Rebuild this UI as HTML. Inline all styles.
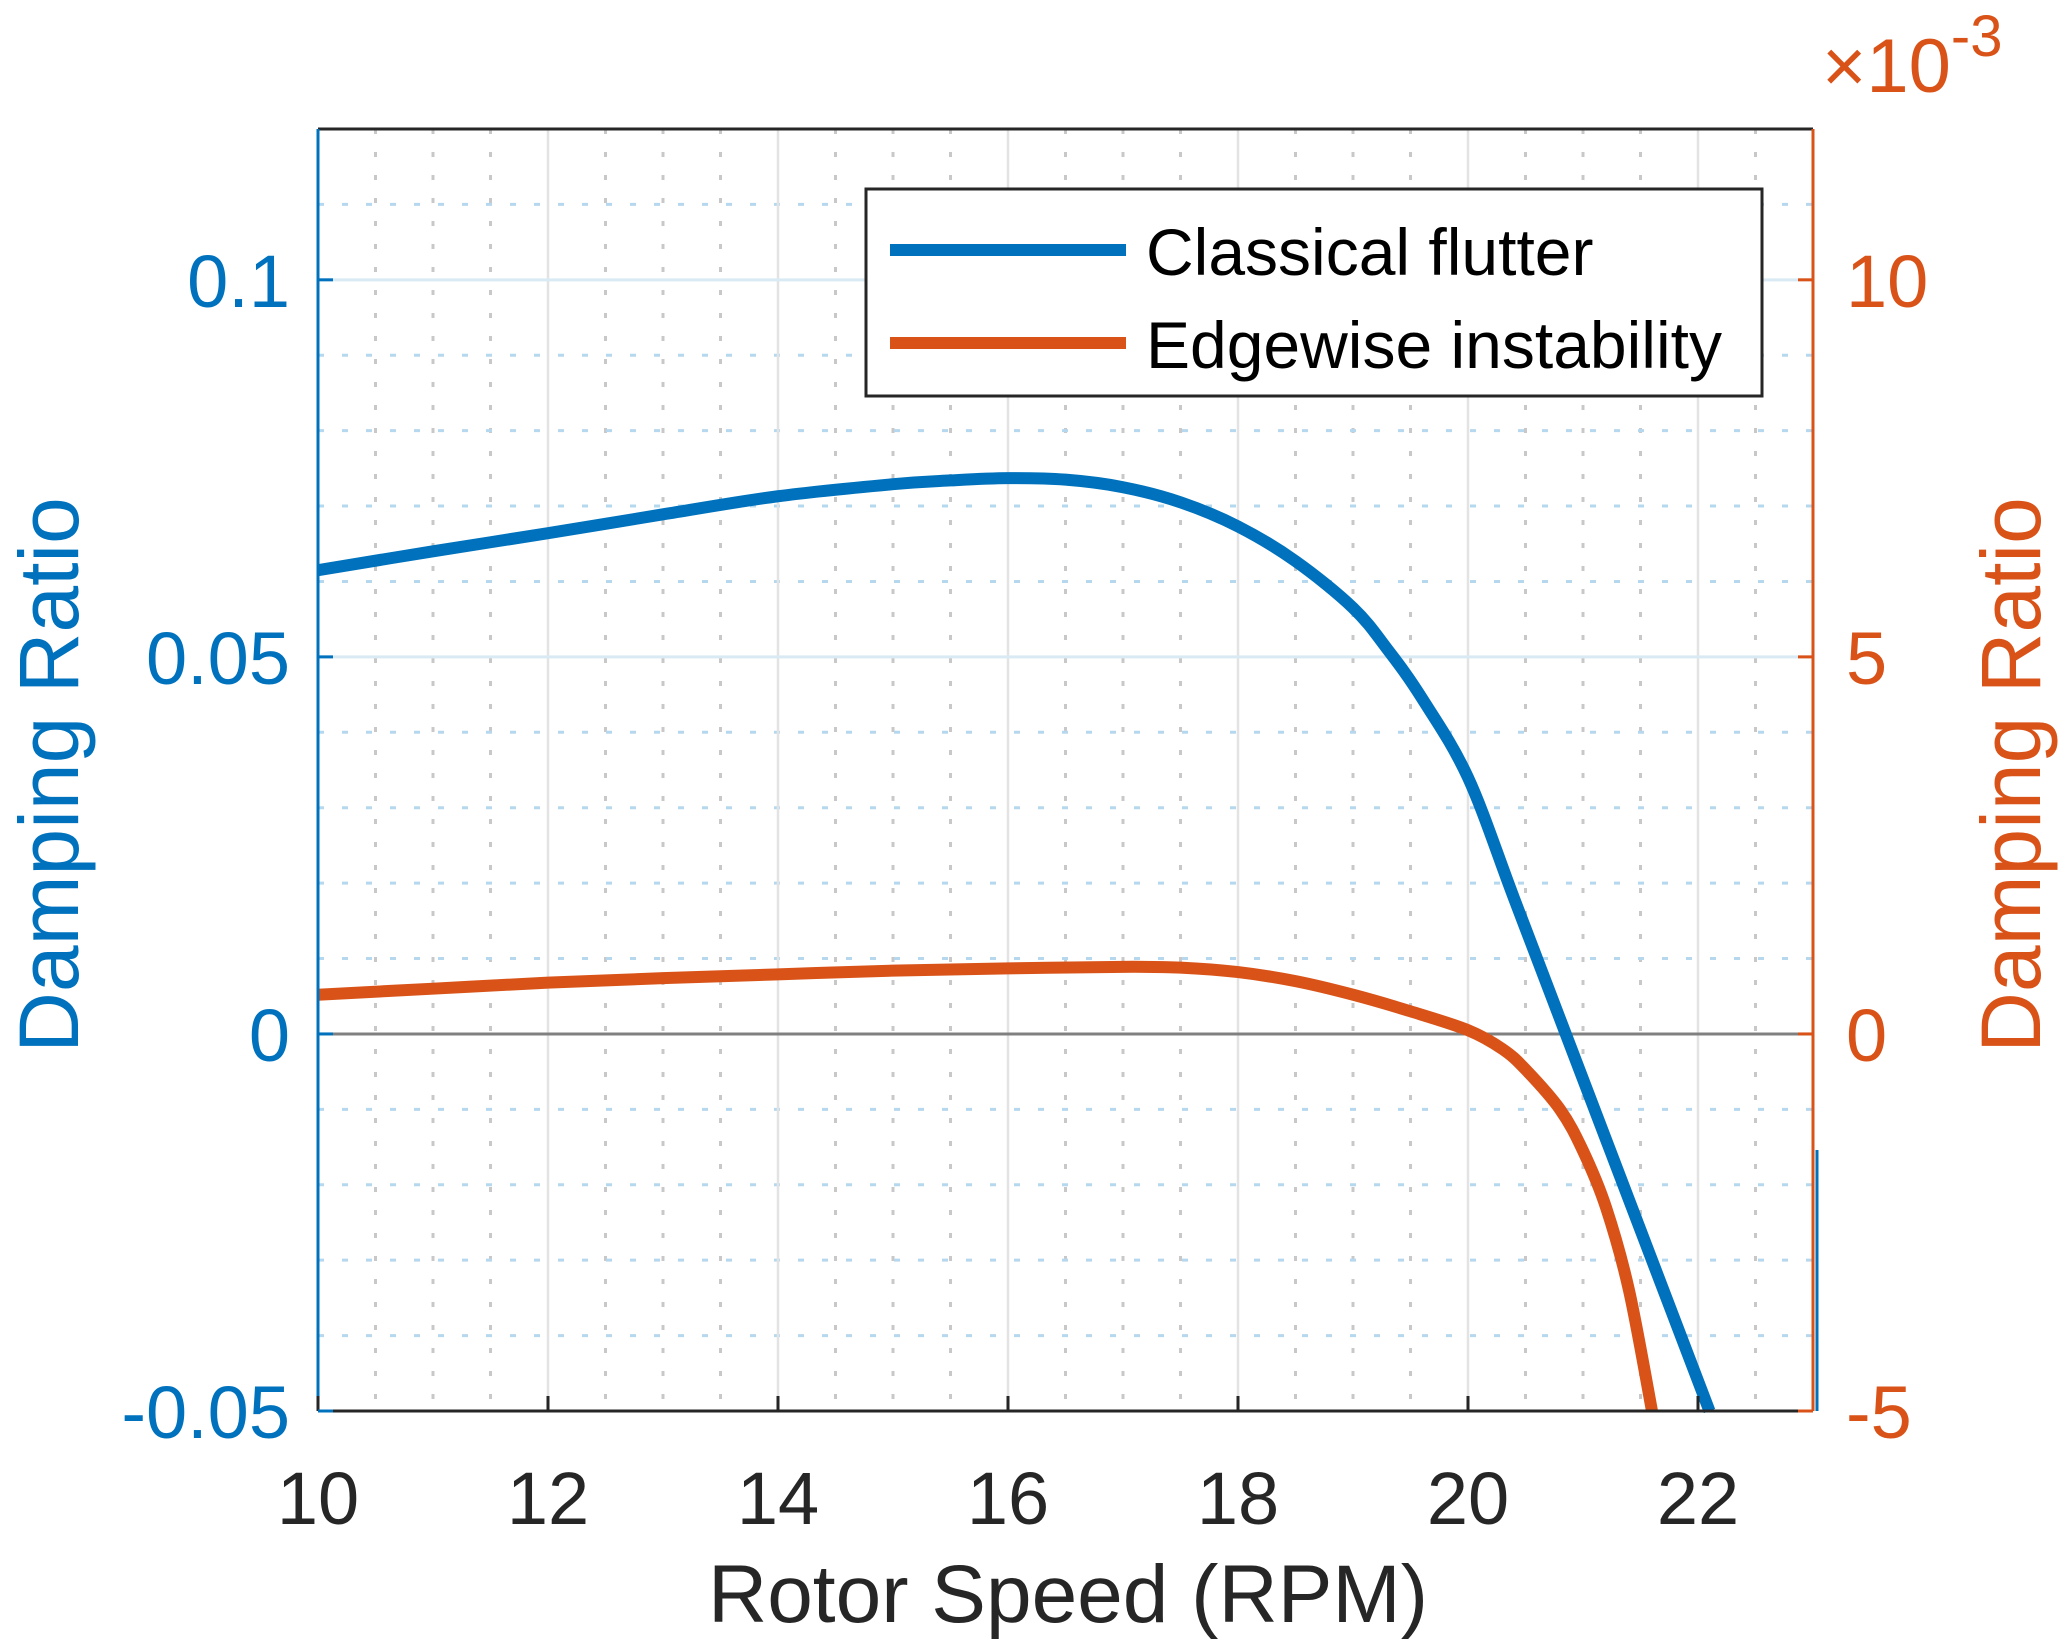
<!DOCTYPE html>
<html><head><meta charset="utf-8"><style>
html,body{margin:0;padding:0;background:#fff;}
svg{display:block;font-family:"Liberation Sans",Arial,sans-serif;}
</style></head><body>
<svg id="chart" width="2067" height="1650" viewBox="0 0 2067 1650" xmlns="http://www.w3.org/2000/svg">
<rect width="2067" height="1650" fill="#fff"/>
<g id="grid"></g>
<g id="series"></g>
<g id="axes"></g>
<g id="legend"></g>
</svg>
<script>
const rpm = [10, 11, 12, 13, 14, 15, 15.5, 16, 16.5, 17, 17.5, 18, 18.5, 19, 19.3, 19.6, 20, 20.4, 20.85, 21.5, 22.1];
const flutterDamping = [0.0615, 0.064, 0.0664, 0.0689, 0.0713, 0.0729, 0.0734, 0.0737, 0.0735, 0.0725, 0.0705, 0.0673, 0.0627, 0.0565, 0.051, 0.0445, 0.034, 0.018, 0.0, -0.026, -0.05];
const edgeRpm = [10, 11, 12, 13, 14, 15, 16, 17, 17.5, 18, 18.5, 19, 19.5, 20, 20.3, 20.5, 20.8, 21, 21.2, 21.4, 21.6];
const edgeDamping = [0.52, 0.6, 0.68, 0.74, 0.79, 0.84, 0.87, 0.89, 0.88, 0.82, 0.7, 0.52, 0.3, 0.05, -0.2, -0.47, -1.0, -1.55, -2.3, -3.4, -5.0];
const xTicks = [10, 12, 14, 16, 18, 20, 22];
const yLeftTicks = [-0.05, 0, 0.05, 0.1];
const yLeftLabels = ["-0.05", "0", "0.05", "0.1"];
const yRightTicks = [-5, 0, 5, 10];
const yRightLabels = ["-5", "0", "5", "10"];

const L = 318, R = 1813, T = 129, B = 1411;
const xMin = 10, xMax = 23, yMin = -0.05, yMax = 0.12, y2Min = -5, y2Max = 12;
const xs = v => L + (v - xMin) / (xMax - xMin) * (R - L);
const ys = v => B - (v - yMin) / (yMax - yMin) * (B - T);
const ys2 = v => B - (v - y2Min) / (y2Max - y2Min) * (B - T);
const NS = "http://www.w3.org/2000/svg";
function mk(tag, attrs, parent, text) {
  const e = document.createElementNS(NS, tag);
  for (const k in attrs) e.setAttribute(k, attrs[k]);
  if (text !== undefined) e.textContent = text;
  parent.appendChild(e);
  return e;
}
function smoothPath(px, py) {
  let d = 'M' + px[0] + ',' + py[0];
  for (let i = 0; i < px.length - 1; i++) {
    const x0 = px[Math.max(i - 1, 0)], y0 = py[Math.max(i - 1, 0)];
    const x1 = px[i], y1 = py[i], x2 = px[i + 1], y2 = py[i + 1];
    const x3 = px[Math.min(i + 2, px.length - 1)], y3 = py[Math.min(i + 2, px.length - 1)];
    const c1x = x1 + (x2 - x0) / 6, c1y = y1 + (y2 - y0) / 6;
    const c2x = x2 - (x3 - x1) / 6, c2y = y2 - (y3 - y1) / 6;
    d += ' C' + c1x + ',' + c1y + ' ' + c2x + ',' + c2y + ' ' + x2 + ',' + y2;
  }
  return d;
}
const gridG = document.getElementById('grid');
const seriesG = document.getElementById('series');
const axesG = document.getElementById('axes');
const legendG = document.getElementById('legend');

for (let v = 10.5; v < 23; v += 1) {
  const ln = mk('line', {x1: xs(v), x2: xs(v), y1: T, y2: B, stroke: '#c8c8c8', 'stroke-width': 3, 'stroke-dasharray': '5 18'}, gridG);
  
  
}
for (let v = 11; v < 23; v += 2) {
  const ln = mk('line', {x1: xs(v), x2: xs(v), y1: T, y2: B, stroke: '#c8c8c8', 'stroke-width': 3, 'stroke-dasharray': '5 18'}, gridG);
  
  
}
for (let i = -4; i <= 11; i++) {
  if (i % 5 === 0) continue;
  const v = i * 0.01;
  const ln = mk('line', {x1: L, x2: R, y1: ys(v), y2: ys(v), stroke: '#b6d8ee', 'stroke-width': 3, 'stroke-dasharray': '6 18'}, gridG);
  
  
}
xTicks.forEach(v => {
  if (v === 10) return;
  const ln = mk('line', {x1: xs(v), x2: xs(v), y1: T, y2: B, stroke: '#e3e3e3', 'stroke-width': 2.5}, gridG);
  
  
});
yLeftTicks.forEach(v => {
  if (v === yMin) return;
  const ln = mk('line', {x1: L, x2: R, y1: ys(v), y2: ys(v), stroke: v === 0 ? '#808080' : '#d9eaf5', 'stroke-width': 3}, gridG);
  
  
});

const p1 = mk('path', {d: smoothPath(rpm.map(xs), flutterDamping.map(ys)), fill: 'none', stroke: '#0072bd', 'stroke-width': 12, 'stroke-linejoin': 'round'}, seriesG);


const p2 = mk('path', {d: smoothPath(edgeRpm.map(xs), edgeDamping.map(ys2)), fill: 'none', stroke: '#d95319', 'stroke-width': 12, 'stroke-linejoin': 'round'}, seriesG);


const sl = mk('line', {x1: R + 4, x2: R + 4, y1: 1150, y2: B, stroke: '#0072bd', 'stroke-width': 3}, seriesG);



const topBorder = mk('line', {x1: L, x2: R, y1: T, y2: T, stroke: '#262626', 'stroke-width': 3}, axesG);


const botAxis = mk('line', {x1: L, x2: R, y1: B, y2: B, stroke: '#262626', 'stroke-width': 3}, axesG);


const leftAxis = mk('line', {x1: L, x2: L, y1: T, y2: B, stroke: '#0072bd', 'stroke-width': 3}, axesG);


const rightAxis = mk('line', {x1: R, x2: R, y1: T, y2: B, stroke: '#d95319', 'stroke-width': 3}, axesG);



xTicks.forEach(v => {
  const t = mk('line', {x1: xs(v), x2: xs(v), y1: B, y2: B - 15, stroke: '#262626', 'stroke-width': 3}, axesG);
  
  
  const lb = mk('text', {x: xs(v), y: 1524, 'text-anchor': 'middle', 'font-size': 74, fill: '#262626'}, axesG, String(v));
  
  
});
yLeftTicks.forEach((v, i) => {
  const t = mk('line', {x1: L, x2: L + 15, y1: ys(v), y2: ys(v), stroke: '#0072bd', 'stroke-width': 3}, axesG);
  
  
  const lb = mk('text', {x: 290, y: ys(v) + 27, 'text-anchor': 'end', 'font-size': 74, fill: '#0072bd'}, axesG, yLeftLabels[i]);
  
  
});
yRightTicks.forEach((v, i) => {
  const t = mk('line', {x1: R, x2: R - 15, y1: ys2(v), y2: ys2(v), stroke: '#d95319', 'stroke-width': 3}, axesG);
  
  
  const lb = mk('text', {x: 1846, y: ys2(v) + 27, 'text-anchor': 'start', 'font-size': 74, fill: '#d95319'}, axesG, yRightLabels[i]);
  
  
});
const xt = mk('text', {x: 1068, y: 1622, 'text-anchor': 'middle', 'font-size': 82, fill: '#262626'}, axesG, 'Rotor Speed (RPM)');


const yt = mk('text', {x: 0, y: 0, 'text-anchor': 'middle', 'font-size': 84, fill: '#0072bd', transform: 'translate(78,775) rotate(-90)'}, axesG, 'Damping Ratio');


const yt2 = mk('text', {x: 0, y: 0, 'text-anchor': 'middle', 'font-size': 84, fill: '#d95319', transform: 'translate(2040,775) rotate(-90)'}, axesG, 'Damping Ratio');


const ex = mk('text', {x: 1822, y: 92, 'font-size': 76, fill: '#d95319'}, axesG);


mk('tspan', {}, ex, '×10');
mk('tspan', {dy: -36, 'font-size': 58}, ex, '-3');

const box = mk('rect', {x: 866, y: 189, width: 896, height: 207, fill: '#fff', stroke: '#262626', 'stroke-width': 3}, legendG);


const items = [['Classical flutter', '#0072bd', 250], ['Edgewise instability', '#d95319', 343]];
items.forEach(it => {
  const s = mk('line', {x1: 890, x2: 1126, y1: it[2], y2: it[2], stroke: it[1], 'stroke-width': 12}, legendG);
  
  
  const t = mk('text', {x: 1146, y: it[2] + 25, 'font-size': 66, fill: '#000'}, legendG, it[0]);
  
  
});
</script>
</body></html>
